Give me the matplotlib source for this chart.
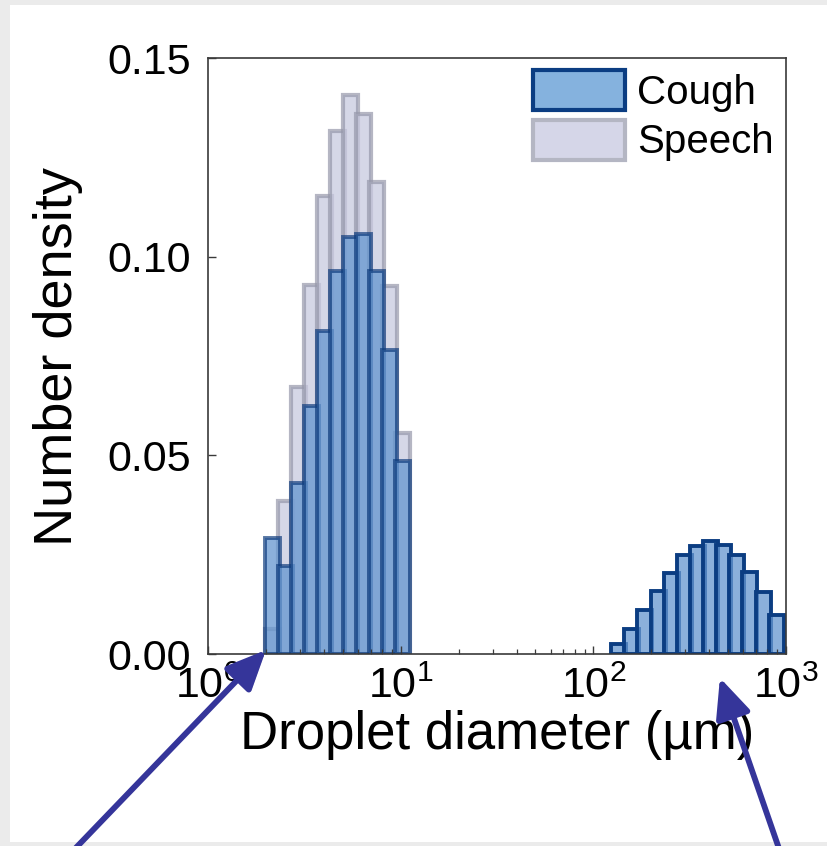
import matplotlib
matplotlib.use('Agg')
import matplotlib.pyplot as plt
from matplotlib.patches import Rectangle, Patch
from matplotlib import patheffects as pe
import numpy as np

plt.rcParams['font.family'] = ['Liberation Sans', 'DejaVu Sans']
plt.rcParams['mathtext.fontset'] = 'custom'
plt.rcParams['mathtext.rm'] = 'Liberation Sans'
plt.rcParams['mathtext.it'] = 'Liberation Sans:italic'
plt.rcParams['mathtext.bf'] = 'Liberation Sans:bold'

# droplet size bins (left edge of each bar, um)
small_edges = [1.97, 2.30, 2.69, 3.14, 3.66, 4.28, 5.00, 5.84, 6.82, 7.97, 9.30]
large_edges = [123.9, 144.9, 169.5, 198.3, 231.9, 271.3, 317.3, 371.2,
               434.2, 507.9, 594.1, 694.9, 812.8]

# number density per bin
speech_small = [0.0062, 0.0384, 0.0673, 0.0929, 0.1152, 0.1317, 0.1408,
                0.1359, 0.1189, 0.0925, 0.0555]
cough_small = [0.0292, 0.0221, 0.0431, 0.0624, 0.0814, 0.0964, 0.1049,
               0.1056, 0.0964, 0.0766, 0.0485]
cough_large = [0.0026, 0.0062, 0.0110, 0.0159, 0.0205, 0.0249, 0.0272,
               0.0284, 0.0274, 0.0249, 0.0207, 0.0156, 0.0097]

bar_ratio = 1.196  # bars are drawn a bit wider than the bin spacing

speech_face = (200/255, 202/255, 224/255, 0.75)
speech_edge = (150/255, 152/255, 170/255, 0.7)
cough_face = (100/255, 150/255, 208/255, 0.75)
cough_edge_soft = (15/255, 60/255, 125/255, 0.7)
cough_edge = '#0b3d82'

fig = plt.figure(figsize=(8.27, 8.46), dpi=100, facecolor='#ebebeb')
fig.add_artist(Rectangle((10/827, 1 - 842/846), 1, 837/846,
                         transform=fig.transFigure, facecolor='white',
                         edgecolor='none', zorder=-1))
ax = fig.add_axes([208/827, 1 - 654/846, 578/827, 596/846])

def draw(edges, heights, face, edge, lw):
    edges = np.asarray(edges)
    ax.bar(edges, heights, width=edges * (bar_ratio - 1), align='edge',
           facecolor=face, edgecolor=edge, linewidth=lw)

draw(small_edges, speech_small, speech_face, speech_edge, 3.0)
draw(small_edges, cough_small, cough_face, cough_edge_soft, 2.8)
draw(large_edges, cough_large, cough_face, cough_edge, 2.8)

ax.set_xscale('log')
ax.set_xlim(1, 1000)
ax.set_ylim(0, 0.15)
ax.set_yticks([0.0, 0.05, 0.10, 0.15])
ax.set_yticklabels(['0.00', '0.05', '0.10', '0.15'])

for s in ax.spines.values():
    s.set_linewidth(1.2)
    s.set_color('#3a3a3a')
ax.tick_params(axis='both', which='major', direction='in', length=6,
               width=1.0, labelsize=31, colors='#3a3a3a', labelcolor='black')
ax.tick_params(axis='x', which='minor', direction='in', length=3.5, width=0.9,
               colors='#3a3a3a')
ax.tick_params(axis='y', pad=12)
ax.tick_params(axis='x', pad=9)

ax.set_xlabel('Droplet diameter (\u00b5m)', fontsize=38, labelpad=2)
ax.set_ylabel('Number density', fontsize=39, labelpad=18)

handles = [Patch(facecolor=(133/255, 178/255, 222/255), edgecolor=cough_edge, linewidth=3.0),
           Patch(facecolor=(213/255, 214/255, 232/255), edgecolor='#b4b6c3', linewidth=3.0)]
ax.legend(handles, ['Cough', 'Speech'], loc='upper right', frameon=False,
          fontsize=29, handlelength=2.3, handleheight=1.15, handletextpad=0.3,
          labelspacing=0.2, borderpad=0.3, borderaxespad=0.0)

arrow_color = '#35359a'
shadow = [pe.SimplePatchShadow(offset=(1.5, -1.5), alpha=0.25), pe.Normal()]
arrow_props = dict(arrowstyle='-|>,head_length=1.0,head_width=0.45',
                   mutation_scale=24, lw=4.2, color=arrow_color,
                   shrinkA=0, shrinkB=0, path_effects=shadow)
ax.annotate('', xy=(2.0, 0.001), xycoords='data',
            xytext=(0.088, -0.006), textcoords='figure fraction',
            arrowprops=arrow_props, annotation_clip=False)
ax.annotate('', xy=(454, -0.006), xycoords='data',
            xytext=(0.943, -0.006), textcoords='figure fraction',
            arrowprops=arrow_props, annotation_clip=False)

fig.savefig('out.png', dpi=100, facecolor=fig.get_facecolor())
